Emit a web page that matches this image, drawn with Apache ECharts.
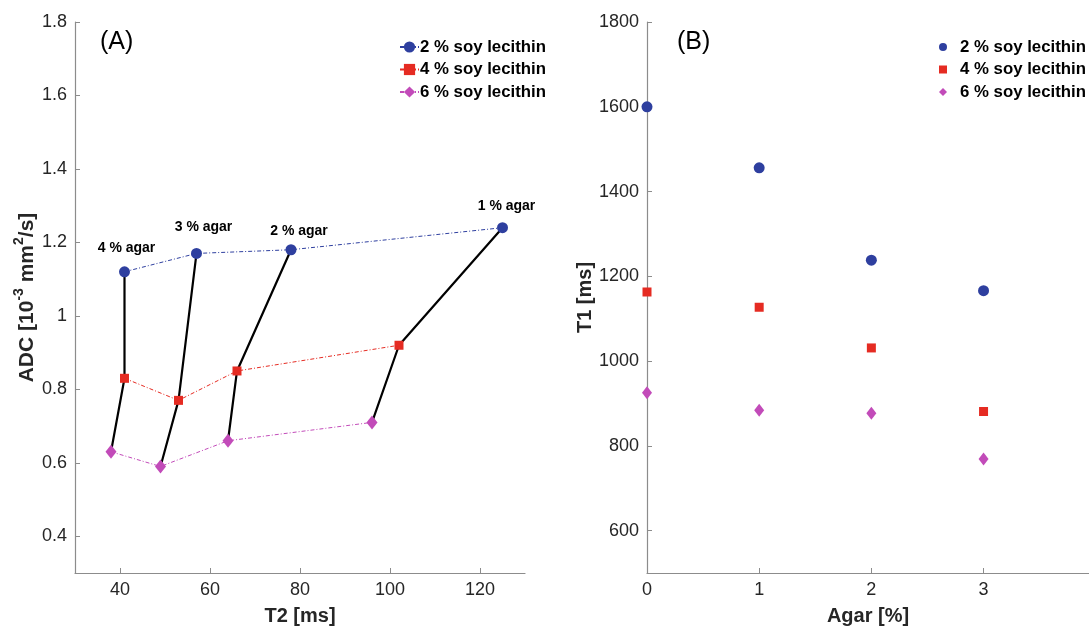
<!DOCTYPE html>
<html>
<head>
<meta charset="utf-8">
<script src="https://cdn.jsdelivr.net/npm/echarts@6/dist/echarts.min.js"></script>
<style>
  html, body { margin: 0; padding: 0; background: #fff; }
  #chart { width: 1089px; height: 631px; }
</style>
</head>
<body>
<div id="chart"></div>
<script>
// panel A: ADC vs T2, one point per agar concentration
const agarLabels = ['4 % agar', '3 % agar', '2 % agar', '1 % agar']
const t2Lec2 = [41, 57, 78, 125]
const adcLec2 = [1.12, 1.17, 1.18, 1.24]
const t2Lec4 = [41, 53, 66, 102]
const adcLec4 = [0.83, 0.77, 0.85, 0.92]
const t2Lec6 = [38, 49, 64, 96]
const adcLec6 = [0.63, 0.59, 0.66, 0.71]

// panel B: T1 vs agar
const agarPct = [0, 1, 2, 3]
const t1Lec2 = [1600, 1456, 1238, 1166]
const t1Lec4 = [1163, 1127, 1031, 881]
const t1Lec6 = [925, 884, 877, 769]

const seriesNames = ['2 % soy lecithin', '4 % soy lecithin', '6 % soy lecithin']

// tick labels
const t2Ticks = [40, 60, 80, 100, 120]
const adcTicks = [0.4, 0.6, 0.8, 1, 1.2, 1.4, 1.6, 1.8]
const agarTicks = [0, 1, 2, 3]
const t1Ticks = [600, 800, 1000, 1200, 1400, 1600, 1800]

const labelOffsets = [[2, -24], [7, -26], [8, -19], [4, -22]]

const BLUE = '#2e3f9f'
const RED = '#e52b22'
const MAG = '#c24bb9'
const FONT = 'Arial, "Liberation Sans", sans-serif'
const AXIS_COLOR = '#8c8c8c'
const TEXT_COLOR = '#262626'

const zip = (xs, ys) => xs.map((x, i) => [x, ys[i]])

function axisBase(ticks) {
  return {
    type: 'value',
    splitLine: { show: false },
    axisLine: { show: true, lineStyle: { color: AXIS_COLOR, width: 1.2 } },
    axisTick: { show: true, inside: true, length: 5, customValues: ticks, lineStyle: { color: AXIS_COLOR } },
    axisLabel: {
      customValues: ticks, color: TEXT_COLOR, fontSize: 18, fontFamily: FONT, margin: 8,
      formatter: v => String(v)
    },
    nameLocation: 'middle',
    nameTextStyle: { color: TEXT_COLOR, fontSize: 20, fontWeight: 'bold', fontFamily: FONT }
  }
}

const chart = echarts.init(document.getElementById('chart'))

// black lines joining the three lecithin levels of one agar concentration
const connectors = agarLabels.map((label, i) => ({
  type: 'line',
  xAxisIndex: 0, yAxisIndex: 0,
  data: [[t2Lec2[i], adcLec2[i]], [t2Lec4[i], adcLec4[i]], [t2Lec6[i], adcLec6[i]]],
  symbol: 'none',
  lineStyle: { color: '#000', width: 2.2 },
  silent: true,
  z: 1
}))

const dashA = [4, 2, 1, 2]
const legendText = { fontSize: 16.8, fontWeight: 'bold', color: '#000', fontFamily: FONT }
const panelTitle = { fontSize: 25, fontWeight: 'normal', color: '#000', fontFamily: FONT }

chart.setOption({
  animation: false,
  textStyle: { fontFamily: FONT },
  title: [
    { text: '(A)', left: 95, top: 25, textStyle: panelTitle },
    { text: '(B)', left: 672, top: 25, textStyle: panelTitle }
  ],
  legend: [
    {
      orient: 'vertical', left: 394, top: 33,
      itemWidth: 19, itemHeight: 14, itemGap: 4.5,
      data: seriesNames,
      textStyle: Object.assign({ lineHeight: 18, padding: [0, 0, 0, -4] }, legendText)
    },
    {
      orient: 'vertical', left: 934, top: 33,
      itemWidth: 8, itemHeight: 8, itemGap: 4.5,
      data: seriesNames.map(n => 'B:' + n),
      formatter: name => name.slice(2),
      textStyle: Object.assign({ lineHeight: 18, padding: [0, 0, 0, 8] }, legendText)
    }
  ],
  grid: [
    { left: 75, top: 22, width: 450, height: 554 },
    { left: 647, top: 22, width: 442, height: 554 }
  ],
  xAxis: [
    Object.assign(axisBase(t2Ticks), { gridIndex: 0, min: 30, max: 130, name: 'T2 [ms]', nameGap: 33 }),
    Object.assign(axisBase(agarTicks), { gridIndex: 1, min: 0, max: 3.94, name: 'Agar [%]', nameGap: 33 })
  ],
  yAxis: [
    Object.assign(axisBase(adcTicks), {
      gridIndex: 0, min: 0.3, max: 1.8, nameGap: 37,
      name: '{b|ADC [10}{s|-3}{b| mm}{s|2}{b|/s]}',
      nameTextStyle: {
        color: TEXT_COLOR, fontFamily: FONT,
        rich: {
          b: { fontSize: 21, fontWeight: 'bold', color: TEXT_COLOR, fontFamily: FONT, lineHeight: 26, verticalAlign: 'bottom' },
          s: { fontSize: 14, fontWeight: 'bold', color: TEXT_COLOR, fontFamily: FONT, lineHeight: 26, verticalAlign: 'top' }
        }
      }
    }),
    Object.assign(axisBase(t1Ticks), { gridIndex: 1, min: 500, max: 1800, name: 'T1 [ms]', nameGap: 50 })
  ],
  series: [
    ...connectors,
    {
      name: seriesNames[0], type: 'line', xAxisIndex: 0, yAxisIndex: 0, z: 3,
      data: zip(t2Lec2, adcLec2).map((v, i) => ({
        value: v,
        label: {
          show: true, formatter: agarLabels[i], position: 'inside', offset: labelOffsets[i],
          fontSize: 14, fontWeight: 'bold', color: '#000', fontFamily: FONT
        }
      })),
      symbol: 'circle', symbolSize: 11,
      itemStyle: { color: BLUE },
      lineStyle: { color: BLUE, width: 1, type: dashA }
    },
    {
      name: seriesNames[1], type: 'line', xAxisIndex: 0, yAxisIndex: 0, z: 3,
      data: zip(t2Lec4, adcLec4),
      symbol: 'rect', symbolSize: 9,
      itemStyle: { color: RED },
      lineStyle: { color: RED, width: 1, type: dashA }
    },
    {
      name: seriesNames[2], type: 'line', xAxisIndex: 0, yAxisIndex: 0, z: 3,
      data: zip(t2Lec6, adcLec6),
      symbol: 'diamond', symbolSize: [11, 14],
      itemStyle: { color: MAG },
      lineStyle: { color: MAG, width: 1, type: dashA }
    },
    {
      name: 'B:' + seriesNames[0], type: 'scatter', xAxisIndex: 1, yAxisIndex: 1,
      data: zip(agarPct, t1Lec2), symbol: 'circle', symbolSize: 11,
      itemStyle: { color: BLUE, opacity: 1 }
    },
    {
      name: 'B:' + seriesNames[1], type: 'scatter', xAxisIndex: 1, yAxisIndex: 1,
      data: zip(agarPct, t1Lec4), symbol: 'rect', symbolSize: 9,
      itemStyle: { color: RED, opacity: 1 }
    },
    {
      name: 'B:' + seriesNames[2], type: 'scatter', xAxisIndex: 1, yAxisIndex: 1,
      data: zip(agarPct, t1Lec6), symbol: 'diamond', symbolSize: [10, 13],
      itemStyle: { color: MAG, opacity: 1 }
    }
  ]
})
</script>
</body>
</html>
